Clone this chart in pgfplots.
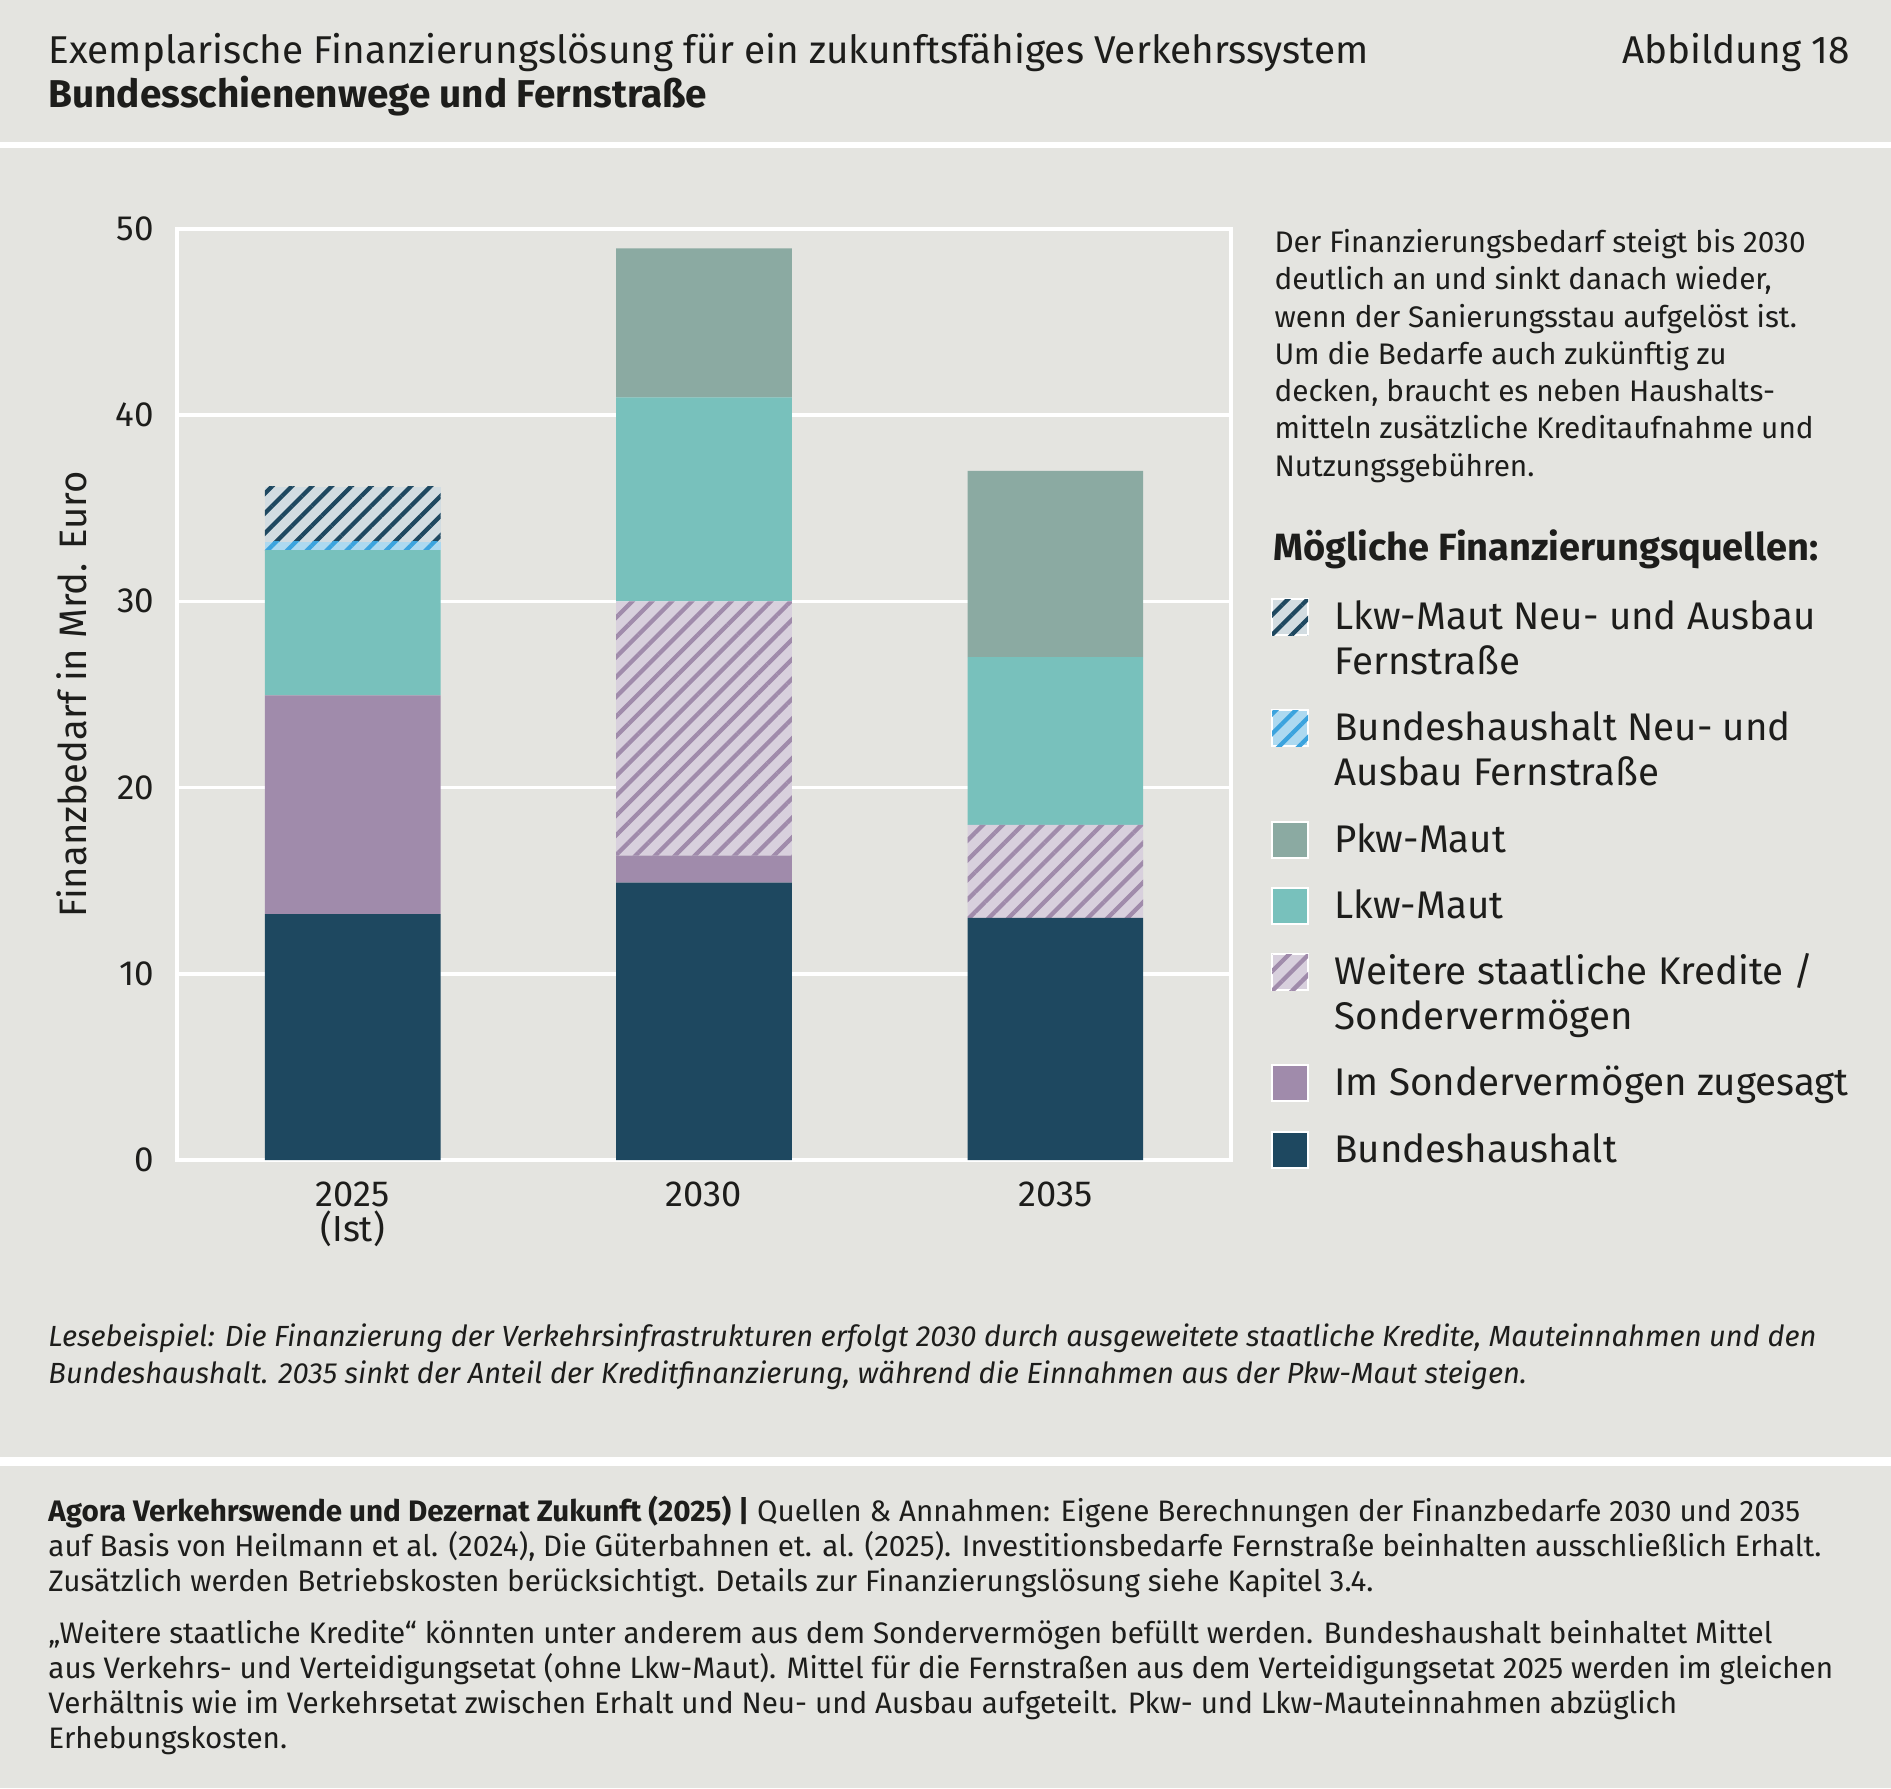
\documentclass[border=0pt]{standalone}
\usepackage{fontspec}
\setmainfont{Fira Sans}
\usepackage{pgfplots}
\pgfplotsset{compat=1.18}
\usetikzlibrary{patterns.meta}

\definecolor{bgc}{HTML}{E4E4E0}
\definecolor{txt}{HTML}{1D1D1B}
\definecolor{cBH}{HTML}{1E4860}
\definecolor{cSV}{HTML}{A08BAB}
\definecolor{cKrBG}{HTML}{D8D0DD}
\definecolor{cLkw}{HTML}{78C1BC}
\definecolor{cPkw}{HTML}{8BAAA2}
\definecolor{cBNBG}{HTML}{ADD9F0}
\definecolor{cBNL}{HTML}{3BA3DE}
\definecolor{cLNBG}{HTML}{D2DCE1}

\newcommand\fs[2]{\fontsize{#1}{#2}\selectfont}
\newcommand\lstrut{\rule[-5.4pt]{0pt}{18pt}}
\newcommand\legtwo[2]{\vtop{\hbox{\lstrut #1}\hbox{\lstrut #2}}}
\newcommand\legone[1]{\lstrut #1}
\pgfkeys{/tikz/legdepth/.initial=5.4pt}

\begin{document}
\begin{tikzpicture}
\begin{scope}[x=0.4pt,y=-0.4pt]
\fill[bgc] (0,0) rectangle (1891,1788);
\fill[white] (0,142) rectangle (1891,148);
\fill[white] (0,1457) rectangle (1891,1466);
\node[anchor=base west, inner sep=0pt, text=txt, font=\fs{15.5}{18}] at (48,63) {Exemplarische Finanzierungslösung für ein zukunftsfähiges Verkehrssystem};
\node[anchor=base east, inner sep=0pt, text=txt, font=\fs{15.5}{18}] at (1850,63) {Abbildung 18};
\node[anchor=base west, inner sep=0pt, text=txt, font=\bfseries\fs{15.5}{18}] at (48,107) {Bundesschienenwege und Fernstraße};
% annotation
\node[anchor=base west, inner sep=0pt, text=txt, font=\fs{11.9}{14.9}] at (1274,252.7) {\vtop{%
\hbox{Der Finanzierungsbedarf steigt bis 2030}
\hbox{deutlich an und sinkt danach wieder,}
\hbox{wenn der Sanierungsstau aufgelöst ist.}
\hbox{Um die Bedarfe auch zukünftig zu}
\hbox{decken, braucht es neben Haushalts-}
\hbox{mitteln zusätzliche Kreditaufnahme und}
\hbox{Nutzungsgebühren.}}};
\node[anchor=base west, inner sep=0pt, text=txt, font=\bfseries\fs{15.2}{18}] at (1273,560) {Mögliche Finanzierungsquellen:};
% Lesebeispiel
\node[anchor=base west, inner sep=0pt, text=txt, font=\itshape\fs{11.65}{14.7}] at (48,1346.7) {\vtop{%
\hbox{Lesebeispiel: Die Finanzierung der Verkehrsinfrastrukturen erfolgt 2030 durch ausgeweitete staatliche Kredite, Mauteinnahmen und den}
\hbox{Bundeshaushalt. 2035 sinkt der Anteil der Kreditfinanzierung, während die Einnahmen aus der Pkw-Maut steigen.}}};
% footer
\node[anchor=base west, inner sep=0pt, text=txt, font=\fs{11.85}{14}] at (48,1521.7) {\vtop{%
\hbox{\textbf{Agora Verkehrswende und Dezernat Zukunft (2025) |} Quellen \& Annahmen: Eigene Berechnungen der Finanzbedarfe 2030 und 2035}
\hbox{auf Basis von Heilmann et al. (2024), Die Güterbahnen et. al. (2025). Investitionsbedarfe Fernstraße beinhalten ausschließlich Erhalt.}
\hbox{Zusätzlich werden Betriebskosten berücksichtigt. Details zur Finanzierungslösung siehe Kapitel 3.4.}}};
\node[anchor=base west, inner sep=0pt, text=txt, font=\fs{11.85}{14}] at (48,1643.3) {\vtop{%
\hbox{„Weitere staatliche Kredite“ könnten unter anderem aus dem Sondervermögen befüllt werden. Bundeshaushalt beinhaltet Mittel}
\hbox{aus Verkehrs- und Verteidigungsetat (ohne Lkw-Maut). Mittel für die Fernstraßen aus dem Verteidigungsetat 2025 werden im gleichen}
\hbox{Verhältnis wie im Verkehrsetat zwischen Erhalt und Neu- und Ausbau aufgeteilt. Pkw- und Lkw-Mauteinnahmen abzüglich}
\hbox{Erhebungskosten.}}};
\end{scope}

\begin{axis}[
  at={(177*0.4pt,-1160*0.4pt)}, anchor=south west,
  scale only axis, width=421.6pt, height=372.5pt,
  ybar stacked, bar width=0.5,
  xmin=-0.5, xmax=2.5, ymin=0, ymax=50,
  xtick={0,1,2}, xticklabels={{2025\\(Ist)},2030,2035},
  ytick={0,10,...,50},
  /pgf/number format/assume math mode=true,
  ymajorgrids, grid style={white, line width=1.4pt},
  axis line style={white, line width=1.4pt},
  major tick length=0pt,
  tick label style={text=txt},
  yticklabel style={font=\fs{14}{16}, inner sep=0pt, anchor=east, xshift=-9pt},
  xticklabel style={font=\fs{14.5}{14}, align=center, inner sep=0pt, anchor=north, yshift=-8.7pt},
  ylabel={Finanzbedarf in Mrd. Euro},
  every axis y label/.style={at={(axis description cs:-0.0996,0.5)}, rotate=90, anchor=center, font=\fs{15.3}{16}, text=txt},
  every axis plot post/.append style={legend image code/.code={\draw[##1, draw=white, line width=0.8pt] (0pt,-2.2pt) rectangle (14.4pt,12.2pt) (0pt,12.6pt) (0pt,-\pgfkeysvalueof{/tikz/legdepth});}},
  reverse legend,
  legend cell align=left,
  legend style={draw=none, fill=none, inner sep=0pt, outer sep=0pt, row sep=7.7pt, column sep=10.2pt,
    font=\fs{15.4}{18}, text=txt, nodes={inner sep=0pt, anchor=base west},
    at={(axis description cs:1.038,0.6044)}, anchor=north west},
]
\addplot[fill=cBH, draw=none] coordinates {(0,13.2) (1,14.9) (2,13.0)};
\addlegendentry{\legone{Bundeshaushalt}}
\addplot[fill=cSV, draw=none] coordinates {(0,11.75) (1,1.45) (2,0)};
\addlegendentry{\legone{Im Sondervermögen zugesagt}}
\addplot[fill=cKrBG, draw=none, legdepth=23.4pt, postaction={pattern={Lines[angle=45,distance=5.6pt,line width=1.7pt]}, pattern color=cSV}] coordinates {(0,0) (1,13.65) (2,5.0)};
\addlegendentry{\legtwo{Weitere staatliche Kredite /}{Sondervermögen}}
\addplot[fill=cLkw, draw=none] coordinates {(0,7.8) (1,10.95) (2,9.0)};
\addlegendentry{\legone{Lkw-Maut}}
\addplot[fill=cPkw, draw=none] coordinates {(0,0) (1,8.0) (2,10.0)};
\addlegendentry{\legone{Pkw-Maut}}
\addplot[fill=cBNBG, draw=none, legdepth=23.4pt, postaction={pattern={Lines[angle=45,distance=5.6pt,line width=1.7pt]}, pattern color=cBNL}] coordinates {(0,0.45) (1,0) (2,0)};
\addlegendentry{\legtwo{Bundeshaushalt Neu- und}{Ausbau Fernstraße}}
\addplot[fill=cLNBG, draw=none, legdepth=23.4pt, postaction={pattern={Lines[angle=45,distance=5.6pt,line width=1.7pt]}, pattern color=cBH}] coordinates {(0,2.95) (1,0) (2,0)};
\addlegendentry{\legtwo{Lkw-Maut Neu- und Ausbau}{Fernstraße}}
\end{axis}
\end{tikzpicture}
\end{document}
